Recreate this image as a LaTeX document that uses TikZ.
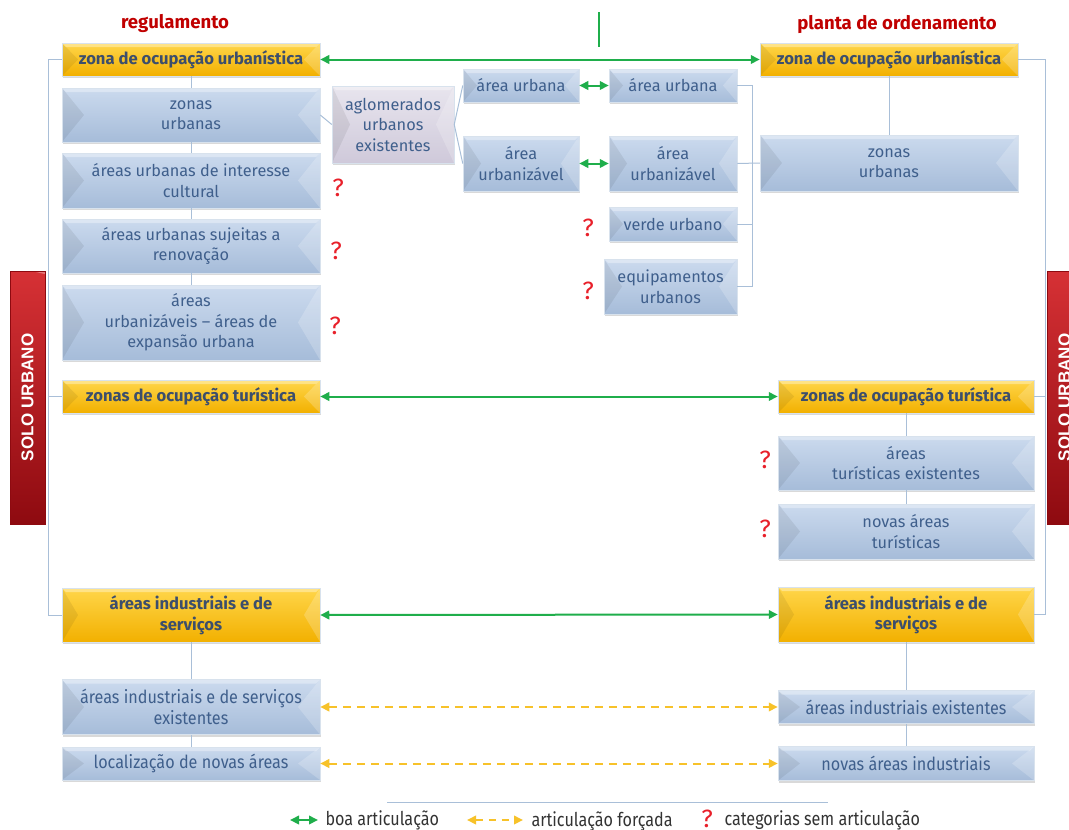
\documentclass[tikz,border=0pt]{standalone}
\usepackage{fontspec}
\setmainfont{Fira Sans}
\newfontfamily\condfont[FakeStretch=0.9]{Fira Sans}
\newfontfamily\legfont[FakeStretch=0.85]{Fira Sans}
\newfontfamily\barfont{Liberation Sans}
\usetikzlibrary{positioning, arrows.meta, shadows}
\definecolor{boxtop}{HTML}{CBDAEE}
\definecolor{boxbot}{HTML}{A6BCD9}
\definecolor{boxtext}{HTML}{3F5F8C}
\definecolor{goldtop}{HTML}{FFD64A}
\definecolor{goldbot}{HTML}{F2B000}
\definecolor{goldtext}{HTML}{3C4E6C}
\definecolor{lilactop}{HTML}{E8E5EE}
\definecolor{lilacbot}{HTML}{CFC9DA}
\definecolor{linkblue}{HTML}{A9BFD8}
\definecolor{goodgreen}{HTML}{1FAE4B}
\definecolor{forcedyellow}{HTML}{F7C22A}
\definecolor{titlered}{HTML}{C00000}
\definecolor{qred}{HTML}{E8202A}
\definecolor{soloa}{HTML}{D63135}
\definecolor{solob}{HTML}{8E0A10}
\begin{document}
\begin{tikzpicture}[x=1pt,y=-1pt,
            every node/.style={align=center},
            bevel/.style={path picture={
                \fill[black,opacity=.07] (path picture bounding box.north west) -- (path picture bounding box.south west) -- ([xshift=#1]path picture bounding box.west) -- cycle;
                \fill[white,opacity=.2] (path picture bounding box.north east) -- (path picture bounding box.south east) -- ([xshift=-#1]path picture bounding box.east) -- cycle;
                \fill[white,opacity=.35] (path picture bounding box.north west) -- (path picture bounding box.north east) -- ([xshift=-4pt,yshift=-4pt]path picture bounding box.north east) -- ([xshift=4pt,yshift=-4pt]path picture bounding box.north west) -- cycle;}},
            bevel/.default=22pt,
            sz/.style 2 args={minimum width=#1, minimum height=#2},
            base/.style={draw=white!55!linkblue, line width=.5pt, inner sep=2pt, font=\fontsize{16.3}{20.5}\selectfont,
                drop shadow={opacity=.3, shadow xshift=1pt, shadow yshift=-2pt}},
            box/.style={base, top color=boxtop, bottom color=boxbot, text=boxtext, bevel},
            gold/.style={base, top color=goldtop, bottom color=goldbot, text=goldtext, font=\fontsize{16.6}{20.5}\selectfont\bfseries, bevel=16pt},
            lilac/.style={base, top color=lilactop, bottom color=lilacbot, text=boxtext, bevel=18pt},
            cond/.style={font=\condfont\fontsize{18}{21}\selectfont},
            solo/.style={rotate=90, top color=soloa, bottom color=solob, draw=solob, text=white,
                font=\barfont\fontsize{17}{17}\selectfont\bfseries, bevel=12pt},
            title/.style={text=titlered, font=\fontsize{18.6}{20}\selectfont\bfseries},
            qmark/.style={text=qred, font=\fontsize{25}{25}\selectfont},
            link/.style={draw=linkblue, line width=1pt},
            good/.style={<->, >={Triangle[length=9pt,width=8.5pt]}, draw=goodgreen, line width=2pt},
            forced/.style={<->, >={Triangle[length=9pt,width=8.5pt]}, draw=forcedyellow, line width=2pt, dash pattern=on 8pt off 6pt},
            legend/.style={anchor=west, text=black!80, font=\legfont\fontsize{19}{20}\selectfont}]
        \useasboundingbox (0,0) rectangle (1069,830);

        % titles
        \node[title] (regT) at (175,24) {regulamento};
        \node[title] (planT) at (897,25) {planta de ordenamento};
        \coordinate (topA) at (599,12);
        \coordinate (topB) at (599,47);
        \draw[draw=goodgreen, line width=1.8pt] (topA) -- (topB);

        % solo urbano bars
        \node[solo, sz={253pt}{35pt}] (soloL) at (27.5,397.5) {SOLO URBANO};
        \node[solo, sz={253pt}{35pt}] (soloR) at (1064.5,397.5) {SOLO URBANO};

        % regulamento
        \node[gold, sz={258pt}{33pt}] (L1) at (191,59.5) {zona de ocupação urbanística};
        \node[box, sz={258pt}{54pt}] (L2) at (191,115) {zonas\\urbanas};
        \node[box, sz={258pt}{55pt}] (L3) at (191,180.5) {áreas urbanas de interesse\\cultural};
        \node[box, sz={258pt}{54pt}] (L4) at (191,246) {áreas urbanas sujeitas a\\renovação};
        \node[box, sz={258pt}{75pt}] (L5) at (191,322.5) {áreas\\urbanizáveis – áreas de\\expansão urbana};
        \node[gold, sz={258pt}{33pt}] (L6) at (191,396.5) {zonas de ocupação turística};
        \node[gold, sz={258pt}{54pt}] (L7) at (191,615) {áreas industriais e de\\serviços};
        \node[box, cond, sz={258pt}{55pt}] (L8) at (191,707) {áreas industriais e de serviços\\existentes};
        \node[box, cond, sz={258pt}{33pt}] (L9) at (191,763.5) {localização de novas áreas};

        % middle
        \node[lilac, sz={122pt}{77pt}] (M) at (393,124.5) {aglomerados\\urbanos\\existentes};
        \node[box, sz={116pt}{33pt}, bevel=14pt] (A1) at (521,85.5) {área urbana};
        \node[box, sz={116pt}{55pt}, bevel=18pt] (A2) at (521,163.5) {área\\urbanizável};
        \node[box, sz={128pt}{33pt}, bevel=14pt] (B1) at (673,85.5) {área urbana};
        \node[box, sz={128pt}{55pt}, bevel=18pt] (B2) at (673,163.5) {área\\urbanizável};
        \node[box, sz={128pt}{34pt}, bevel=14pt] (B3) at (673,224) {verde urbano};
        \node[box, sz={133pt}{55pt}, bevel=18pt] (B4) at (670.5,286.5) {equipamentos\\urbanos};

        % planta de ordenamento
        \node[gold, sz={258pt}{33pt}] (R1) at (889,59.5) {zona de ocupação urbanística};
        \node[box, sz={258pt}{56pt}] (R2) at (889,163) {zonas\\urbanas};
        \node[gold, sz={256pt}{33pt}] (R3) at (906,396.5) {zonas de ocupação turística};
        \node[box, sz={256pt}{54pt}] (R4) at (906,463) {áreas\\turísticas existentes};
        \node[box, sz={256pt}{55pt}] (R5) at (906,531.5) {novas áreas\\turísticas};
        \node[gold, sz={256pt}{55pt}] (R6) at (906,614.5) {áreas industriais e de\\serviços};
        \node[box, cond, sz={256pt}{33pt}] (R7) at (906,707) {áreas industriais existentes};
        \node[box, cond, sz={256pt}{34pt}] (R8) at (906,763.5) {novas áreas industriais};

        % categorias sem articulacao
        \node[qmark] (q1) at (338,188) {?};
        \node[qmark] (q2) at (336,251) {?};
        \node[qmark] (q3) at (335,326) {?};
        \node[qmark] (q4) at (588,228) {?};
        \node[qmark] (q5) at (588,291) {?};
        \node[qmark] (q6) at (765,460) {?};
        \node[qmark] (q7) at (765,529) {?};

        % hierarchy lines
        \coordinate (lspine) at (48,0);
        \coordinate (rspine) at (1045,0);
        \coordinate (bspine) at (752,0);
        \draw[link] (L1.west) -| (lspine |- L7.west) -- (L7.west);
        \draw[link] (L6.west) -- (lspine |- L6.west);
        \draw[link] (R1.east) -| (rspine |- R6.east) -- (R6.east);
        \draw[link] (R3.east) -- (rspine |- R3.east);
        \foreach \a/\b in {L1/L2,L2/L3,L3/L4,L4/L5,L7/L8,L8/L9,R1/R2,R3/R4,R4/R5,R6/R7,R7/R8}
            \draw[link] (\a) -- (\b);
        \draw[link] (L2.east) -- (M.west);
        \draw[link] (A1.west) -- (M.east) -- (A2.west);
        \draw[link] (B1.east) -| (bspine |- B4.east) -- (B4.east);
        \draw[link] (B3.east) -- (bspine |- B3.east);
        \draw[link] (B2.east) -- (R2.west);

        % articulacao
        \draw[good] (L1.east) -- (R1.west);
        \draw[good] (A1.east) -- (B1.west);
        \draw[good] (A2.east) -- (B2.west);
        \draw[good] (L6.east) -- (R3.west);
        \draw[good] (L7.east) -- (R6.west);
        \draw[forced] (L8.east) -- (R7.west);
        \draw[forced] (L9.east) -- (R8.west);

        % legend
        \coordinate (legA) at (387,802);
        \coordinate (legB) at (828,802);
        \draw[link] (legA) -- (legB);
        \coordinate (g1) at (290,820);
        \coordinate (g2) at (318,820);
        \draw[good] (g1) -- (g2);
        \node[legend] (goodT) at (322,820) {boa articulação};
        \coordinate (f1) at (467,820);
        \coordinate (f2) at (523,820);
        \draw[forced, dash pattern=on 7pt off 6pt] (f1) -- (f2);
        \node[legend] (forcedT) at (528,821) {articulação forçada};
        \node[qmark] (q8) at (707,819) {?};
        \node[legend] (noneT) at (721,820) {categorias sem articulação};
\end{tikzpicture}
\end{document}
